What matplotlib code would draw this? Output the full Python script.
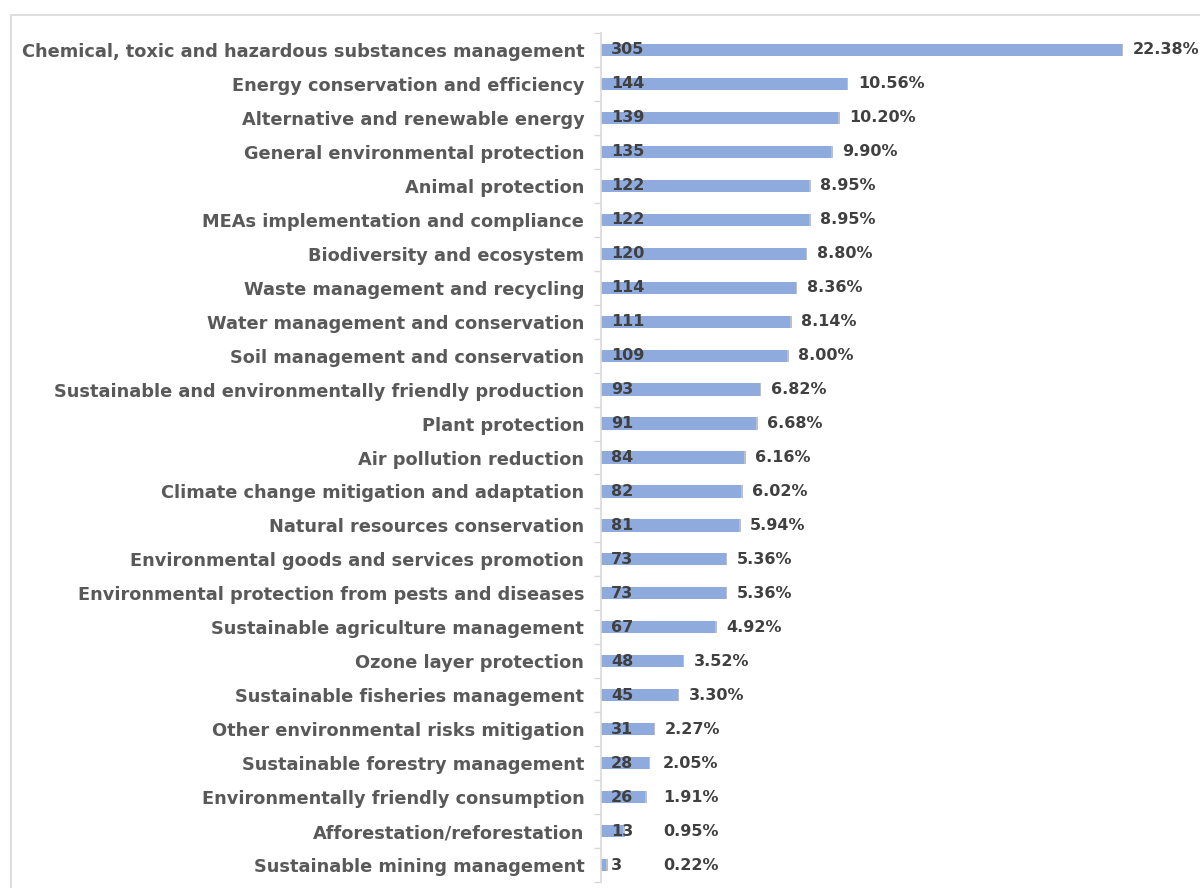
import matplotlib
matplotlib.use("Agg")
import matplotlib.pyplot as plt
from matplotlib.patches import Rectangle

categories = [
    "Chemical, toxic and hazardous substances management",
    "Energy conservation and efficiency",
    "Alternative and renewable energy",
    "General environmental protection",
    "Animal protection",
    "MEAs implementation and compliance",
    "Biodiversity and ecosystem",
    "Waste management and recycling",
    "Water management and conservation",
    "Soil management and conservation",
    "Sustainable and environmentally friendly production",
    "Plant protection",
    "Air pollution reduction",
    "Climate change mitigation and adaptation",
    "Natural resources conservation",
    "Environmental goods and services promotion",
    "Environmental protection from pests and diseases",
    "Sustainable agriculture management",
    "Ozone layer protection",
    "Sustainable fisheries management",
    "Other environmental risks mitigation",
    "Sustainable forestry management",
    "Environmentally friendly consumption",
    "Afforestation/reforestation",
    "Sustainable mining management",
]
counts = [305, 144, 139, 135, 122, 122, 120, 114, 111, 109, 93, 91, 84, 82, 81,
          73, 73, 67, 48, 45, 31, 28, 26, 13, 3]
percents = ["22.38%", "10.56%", "10.20%", "9.90%", "8.95%", "8.95%", "8.80%",
            "8.36%", "8.14%", "8.00%", "6.82%", "6.68%", "6.16%", "6.02%",
            "5.94%", "5.36%", "5.36%", "4.92%", "3.52%", "3.30%", "2.27%",
            "2.05%", "1.91%", "0.95%", "0.22%"]

W, H = 1200, 888
fig = plt.figure(figsize=(W / 100, H / 100), dpi=100)
fig.patch.set_facecolor("white")

# outer chart frame
fig.add_artist(Rectangle((11 / W, -0.1), 1.2, 1 - 15 / H + 0.1,
                         transform=fig.transFigure, fill=False,
                         edgecolor="#D9D9D9", linewidth=1.2))

ax = fig.add_axes([601 / W, 6 / H, (1195 - 601) / W, (855 - 6) / H])
n = len(categories)
ypos = list(range(n))
ax.barh(ypos, counts, height=0.36, color="#8FAADC", edgecolor="none", zorder=2)
# thin grey end segment
ax.barh(ypos, [0.9] * n, left=counts, height=0.36, color="#BFBFBF",
        edgecolor="none", zorder=2)

ax.set_xlim(0, 348)
ax.set_ylim(n - 0.5, -0.5)
ax.set_yticks(ypos)
ax.set_yticklabels(categories, fontsize=12.8, fontweight="bold", color="#595959",
                   family="DejaVu Sans")
ax.tick_params(axis="y", length=0, pad=12)
ax.set_yticks([i - 0.5 for i in range(n + 1)], minor=True)
ax.tick_params(axis="y", which="minor", length=5, color="#D9D9D9", width=1)
ax.set_xticks([])
for s in ["top", "right", "bottom"]:
    ax.spines[s].set_visible(False)
ax.spines["left"].set_color("#D9D9D9")
ax.spines["left"].set_linewidth(1.2)
ax.set_facecolor("none")

for i, (c, p) in enumerate(zip(counts, percents)):
    ax.annotate(str(c), xy=(0, i), xytext=(10, 0), textcoords="offset pixels",
                ha="left", va="center", fontsize=11.5, fontweight="bold",
                color="#404040", zorder=3)
    ax.annotate(p, xy=(max(c, 30), i), xytext=(11, 0), textcoords="offset pixels",
                ha="left", va="center", fontsize=11.5, fontweight="bold",
                color="#404040", zorder=3)

fig.savefig("out.png", dpi=100, facecolor="white")
